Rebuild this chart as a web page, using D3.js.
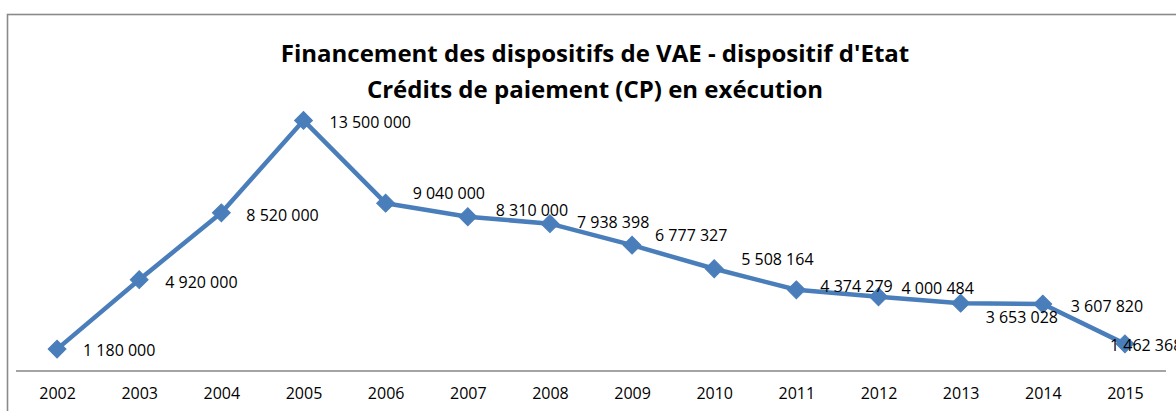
<!DOCTYPE html>
<html lang="fr">
<head>
<meta charset="utf-8">
<title>Financement des dispositifs de VAE</title>
<script src="https://cdn.jsdelivr.net/npm/d3@7"></script>
<style>
  html, body { margin: 0; padding: 0; background: #ffffff; }
  svg { display: block; font-family: "Open Sans", "Noto Sans", sans-serif; }
</style>
</head>
<body>
<svg id="chart" width="1176" height="411"></svg>
<script>
// Crédits de paiement exécutés, par année
const years = ["2002", "2003", "2004", "2005", "2006", "2007", "2008",
               "2009", "2010", "2011", "2012", "2013", "2014", "2015"];
const credits = [1180000, 4920000, 8520000, 13500000, 9040000, 8310000, 7938398,
                 6777327, 5508164, 4374279, 4000484, 3653028, 3607820, 1462368];
const titleLines = [
  "Financement des dispositifs de VAE - dispositif d'Etat",
  "Crédits de paiement (CP) en exécution"
];

// Placement of each value label relative to its marker: [dx, dy]
const labelOffsets = [[26, 1], [26, 2], [25, 2], [26, 2], [27, -10], [28, -7], [27, -2],
                      [23, -10], [27, -10], [24, -4], [23, -9], [25, 14], [28, 2], [-15, 1]];

const W = 1176, H = 411;
const plot = { left: 16, right: 1166, top: 74, bottom: 371 };
const lineColor = "#4a7ebb";

const svg = d3.select("#chart");

// Chart area frame
svg.append("rect")
  .attr("x", 7.5).attr("y", 14.5)
  .attr("width", W).attr("height", H)
  .attr("fill", "#ffffff")
  .attr("stroke", "#8a8a8a")
  .attr("stroke-width", 1.6);

// Title
svg.append("g")
  .selectAll("text")
  .data(titleLines)
  .join("text")
  .attr("x", 595)
  .attr("y", (d, i) => 52 + i * 36)
  .attr("text-anchor", "middle")
  .attr("dominant-baseline", "central")
  .attr("font-weight", 700)
  .attr("font-size", 24)
  .attr("fill", "#000000")
  .text(d => d);

const x = d3.scalePoint()
  .domain(years)
  .range([plot.left, plot.right])
  .padding(0.5);

const y = d3.scaleLinear()
  .domain([0, 16000000])
  .range([plot.bottom, plot.top]);

// Category axis
const xAxis = d3.axisBottom(x).tickSize(0).tickPadding(17);
const gx = svg.append("g")
  .attr("transform", `translate(0,${plot.bottom})`)
  .call(xAxis);
gx.select(".domain")
  .attr("d", `M${plot.left},0H${plot.right}`)
  .attr("stroke", "#868686")
  .attr("stroke-width", 1.6);
gx.selectAll(".tick text")
  .attr("font-family", "\"Open Sans\", sans-serif")
  .attr("font-size", 16)
  .attr("fill", "#000000");

// Series line
const line = d3.line()
  .x((d, i) => x(years[i]))
  .y(d => y(d));

svg.append("path")
  .datum(credits)
  .attr("d", line)
  .attr("fill", "none")
  .attr("stroke", lineColor)
  .attr("stroke-width", 4.5)
  .attr("stroke-linejoin", "round");

// Diamond markers
const diamond = d3.symbol().type(d3.symbolSquare).size(160);
svg.append("g")
  .selectAll("path")
  .data(credits)
  .join("path")
  .attr("d", diamond)
  .attr("transform", (d, i) => `translate(${x(years[i])},${y(d)}) rotate(45)`)
  .attr("fill", lineColor)
  .attr("stroke", lineColor)
  .attr("stroke-width", 1);

// Value labels
const fmt = v => d3.format(",")(v).replace(/,/g, " ");
svg.append("g")
  .selectAll("text")
  .data(credits)
  .join("text")
  .attr("x", (d, i) => x(years[i]) + labelOffsets[i][0])
  .attr("y", (d, i) => y(d) + labelOffsets[i][1])
  .attr("dominant-baseline", "central")
  .attr("font-size", 16)
  .attr("fill", "#000000")
  .text(d => fmt(d));
</script>
</body>
</html>
